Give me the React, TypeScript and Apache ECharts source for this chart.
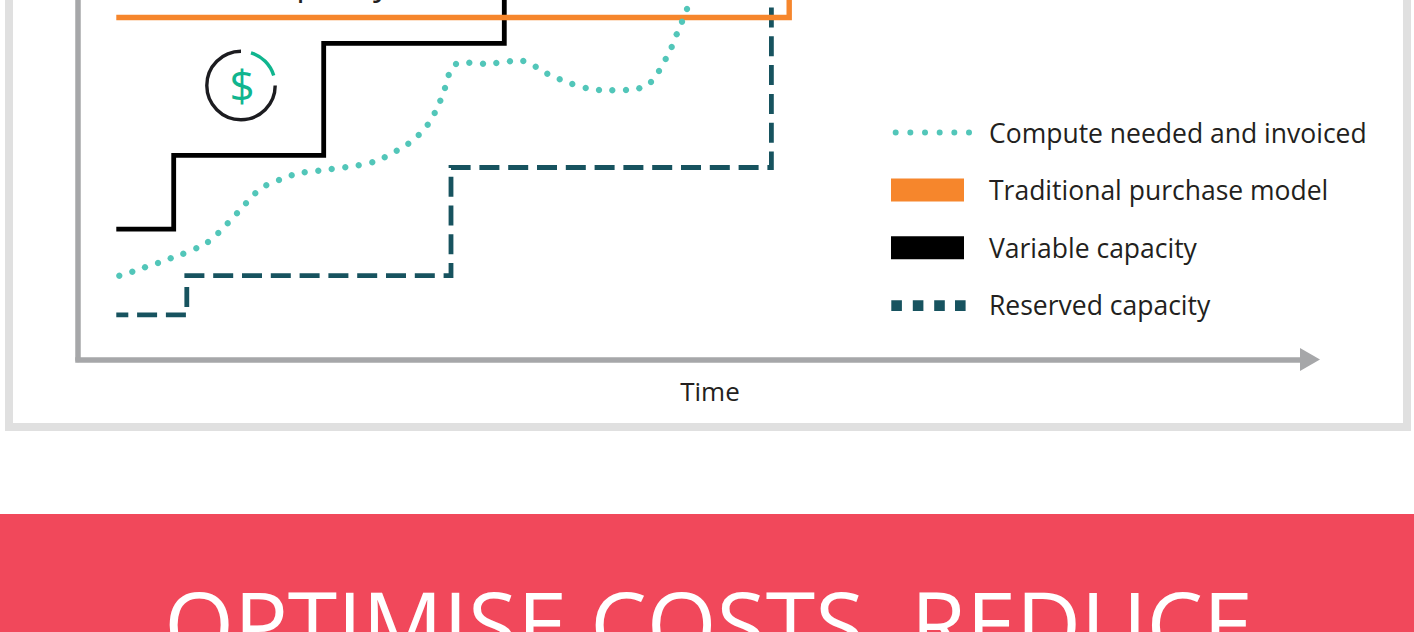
import React, { useEffect, useRef } from "react";
import * as echarts from "echarts";

const FONT = '"Open Sans", sans-serif';

const seriesNames = [
  "Compute needed and invoiced",
  "Traditional purchase model",
  "Variable capacity",
  "Reserved capacity",
];
const axisName = "Time";
const clippedLabel = "Capacity";
const bannerTitle = "OPTIMISE COSTS, REDUCE";

const computeNeeded = [
  [41.3, 83.8], [54.3, 87.8], [67, 92.2], [80, 96.5], [92.7, 101.2], [105.3, 105.8],
  [118.3, 111.2], [130, 117.5], [140.3, 126.5], [149.7, 136.2], [159, 146.2], [168, 156.2],
  [177.3, 166.2], [188.3, 174.2], [201, 179.5], [213.7, 184.2], [226.7, 187.2], [240.3, 188.8],
  [253.7, 190.5], [267.3, 192.2], [280.7, 194.2], [294.3, 197.2], [306.7, 202.2], [318.7, 208.8],
  [330.3, 215.8], [340.7, 224.5], [349.7, 234.8], [356.7, 246.5], [362.3, 258.8], [367, 271.5],
  [370.7, 284.5], [378, 295.5], [391.3, 296.8], [405, 295.8], [418.3, 296.5], [432, 298.2],
  [445.3, 298.5], [457.7, 292.8], [469.3, 285.8], [481.7, 280.2], [494.3, 275.5], [507.7, 271.5],
  [521, 269.5], [534.3, 269.2], [548, 269.5], [561.3, 271.2], [573, 277.5], [581, 288.5],
  [587.7, 300.5], [593.7, 312.5], [598.7, 325.2], [604, 337.8], [609, 350.5], [614, 362.5],
];
const traditional = [[38.3, 342], [711.2, 450]];
const variableCapacity = [[38.3, 130.3], [95.7, 204.2], [245.7, 316.2], [426.3, 450]];
const reservedCapacity = [[38.3, 44.7], [108.8, 83.8], [373, 192], [693.4, 450]];

const circle = (cx: number, cy: number, r: number) =>
  `M${cx - r} ${cy}a${r} ${r} 0 1 0 ${2 * r} 0a${r} ${r} 0 1 0 ${-2 * r} 0Z`;
const square = (x: number, y: number, w: number, h: number) =>
  `M${x} ${y}H${x + w}V${y + h}H${x}Z`;
const box = "M0 0L0 0M81 23L81 23";
const iconDots = "path://" + box + [4.7, 19.4, 34.1, 48.8, 63.5, 78.2].map((x) => circle(x, 11.5, 3)).join("");
const iconBar = "path://" + box + square(0, 0, 73, 23);
const iconSquares = "path://" + box + [0.3, 21.8, 43.2, 64].map((x) => square(x, 6.5, 10.6, 10.6)).join("");

export default function App() {
  const ref = useRef<HTMLDivElement>(null);
  useEffect(() => {
    document.body.style.margin = "0";
    document.body.style.overflow = "hidden";
    const chart = echarts.init(ref.current!, null, { renderer: "svg" });
    const colors = ["#52C6B9", "#F6862C", "#000000", "#17535F"];
    const axisGrey = "#A6A7A9";
    chart.setOption({
      animation: false,
      backgroundColor: "#ffffff",
      grid: { left: 78, top: 0, width: 1232, height: 359.5 },
      xAxis: {
        type: "value", min: 0, max: 1232,
        name: axisName, nameLocation: "middle", nameGap: 18,
        nameTextStyle: { fontFamily: FONT, fontSize: 26, color: "#231F20", padding: [0, 0, 0, 32] },
        axisLine: { show: true, symbol: ["none", "triangle"], symbolSize: [23, 20], lineStyle: { color: axisGrey, width: 5.5, cap: "square" } },
        axisTick: { show: false }, axisLabel: { show: false }, splitLine: { show: false },
      },
      yAxis: {
        type: "value", min: 0, max: 359.5,
        axisLine: { show: true, lineStyle: { color: axisGrey, width: 5.5 } },
        axisTick: { show: false }, axisLabel: { show: false }, splitLine: { show: false },
      },
      legend: {
        orient: "vertical", left: 891, top: 119, itemWidth: 81, itemHeight: 23, itemGap: 30.6, padding: 0,
        selectedMode: false,
        textStyle: { fontFamily: FONT, fontSize: 26.5, color: "#231F20", padding: [0, 0, 0, 12] },
        data: [
          { name: seriesNames[0], icon: iconDots, itemStyle: { color: colors[0] } },
          { name: seriesNames[1], icon: iconBar, itemStyle: { color: colors[1] } },
          { name: seriesNames[2], icon: iconBar, itemStyle: { color: colors[2] } },
          { name: seriesNames[3], icon: iconSquares, itemStyle: { color: colors[3] } },
        ],
      },
      series: [
        {
          name: seriesNames[3], type: "line", step: "end", data: reservedCapacity, showSymbol: false,
          itemStyle: { color: colors[3] },
          lineStyle: { color: colors[3], width: 4.8, type: [20, 8.8], dashOffset: 8, join: "miter", cap: "butt" },
        },
        {
          name: seriesNames[2], type: "line", step: "end", data: variableCapacity, showSymbol: false,
          itemStyle: { color: colors[2] },
          lineStyle: { color: colors[2], width: 4.8, join: "miter", cap: "butt" },
        },
        {
          name: seriesNames[1], type: "line", step: "end", data: traditional, showSymbol: false,
          itemStyle: { color: colors[1] },
          lineStyle: { color: colors[1], width: 5.4, join: "miter", cap: "butt" },
        },
        {
          name: seriesNames[0], type: "line", data: computeNeeded, symbol: "circle", symbolSize: 6.4,
          showSymbol: true, showAllSymbol: true,
          itemStyle: { color: colors[0] }, lineStyle: { opacity: 0, width: 0 },
        },
      ],
      graphic: [
        { type: "rect", z: -1, shape: { x: 9, y: -60, width: 1398, height: 487 }, style: { fill: "none", stroke: "#E0E0E0", lineWidth: 8 } },
        { type: "rect", z: -1, shape: { x: 0, y: 514, width: 1414, height: 118 }, style: { fill: "#F1485B" } },
        { type: "text", x: 708.5, y: 577, style: { text: bannerTitle, font: `400 89.7px ${FONT}`, fill: "#ffffff", align: "center", verticalAlign: "top" } },
        { type: "text", x: 256, y: -35, style: { text: clippedLabel, font: `400 34px ${FONT}`, fill: "#231F20", align: "left", verticalAlign: "top" } },
        { type: "arc", shape: { cx: 241, cy: 85.5, r: 34.2, startAngle: 0, endAngle: -Math.PI / 2, clockwise: true }, style: { stroke: "#1C1C20", lineWidth: 3.4, fill: "none" } },
        { type: "arc", shape: { cx: 241, cy: 85.5, r: 34.2, startAngle: (-73 * Math.PI) / 180, endAngle: (-17 * Math.PI) / 180, clockwise: true }, style: { stroke: "#10B58E", lineWidth: 3.4, fill: "none" } },
        { type: "text", x: 242, y: 85, style: { text: "$", font: `500 44px ${FONT}`, fill: "#10B58E", align: "center", verticalAlign: "middle" } },
      ],
    });
    return () => chart.dispose();
  }, []);
  return <div ref={ref} style={{ width: 1414, height: 632 }} />;
}
